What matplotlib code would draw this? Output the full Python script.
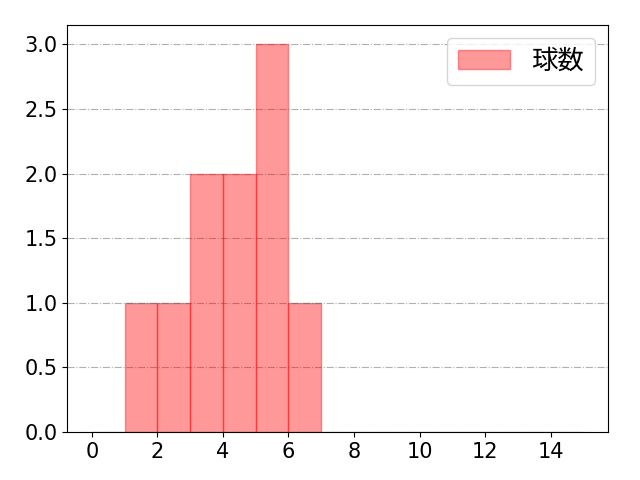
import matplotlib
matplotlib.use("Agg")
import matplotlib.pyplot as plt

plt.rcParams['font.family'] = ['DejaVu Sans', 'Noto Sans CJK JP']
plt.rcParams['font.size'] = 15

values = [1, 2, 3, 3, 4, 4, 5, 5, 5, 6]
bins = list(range(0, 16))
label = "球数"

fig, ax = plt.subplots(figsize=(6.4, 4.8), dpi=100)
ax.hist(values, bins=bins, color='red', alpha=0.4, edgecolor='red', label=label)
ax.grid(axis='y', linestyle='-.', color='#b0b0b0')
ax.set_axisbelow(True)
ax.set_xticks(range(0, 15, 2))
ax.legend(loc='upper right', fontsize=19)
fig.subplots_adjust(left=0.105, right=0.95, top=0.948, bottom=0.1)
fig.savefig("out.png")
